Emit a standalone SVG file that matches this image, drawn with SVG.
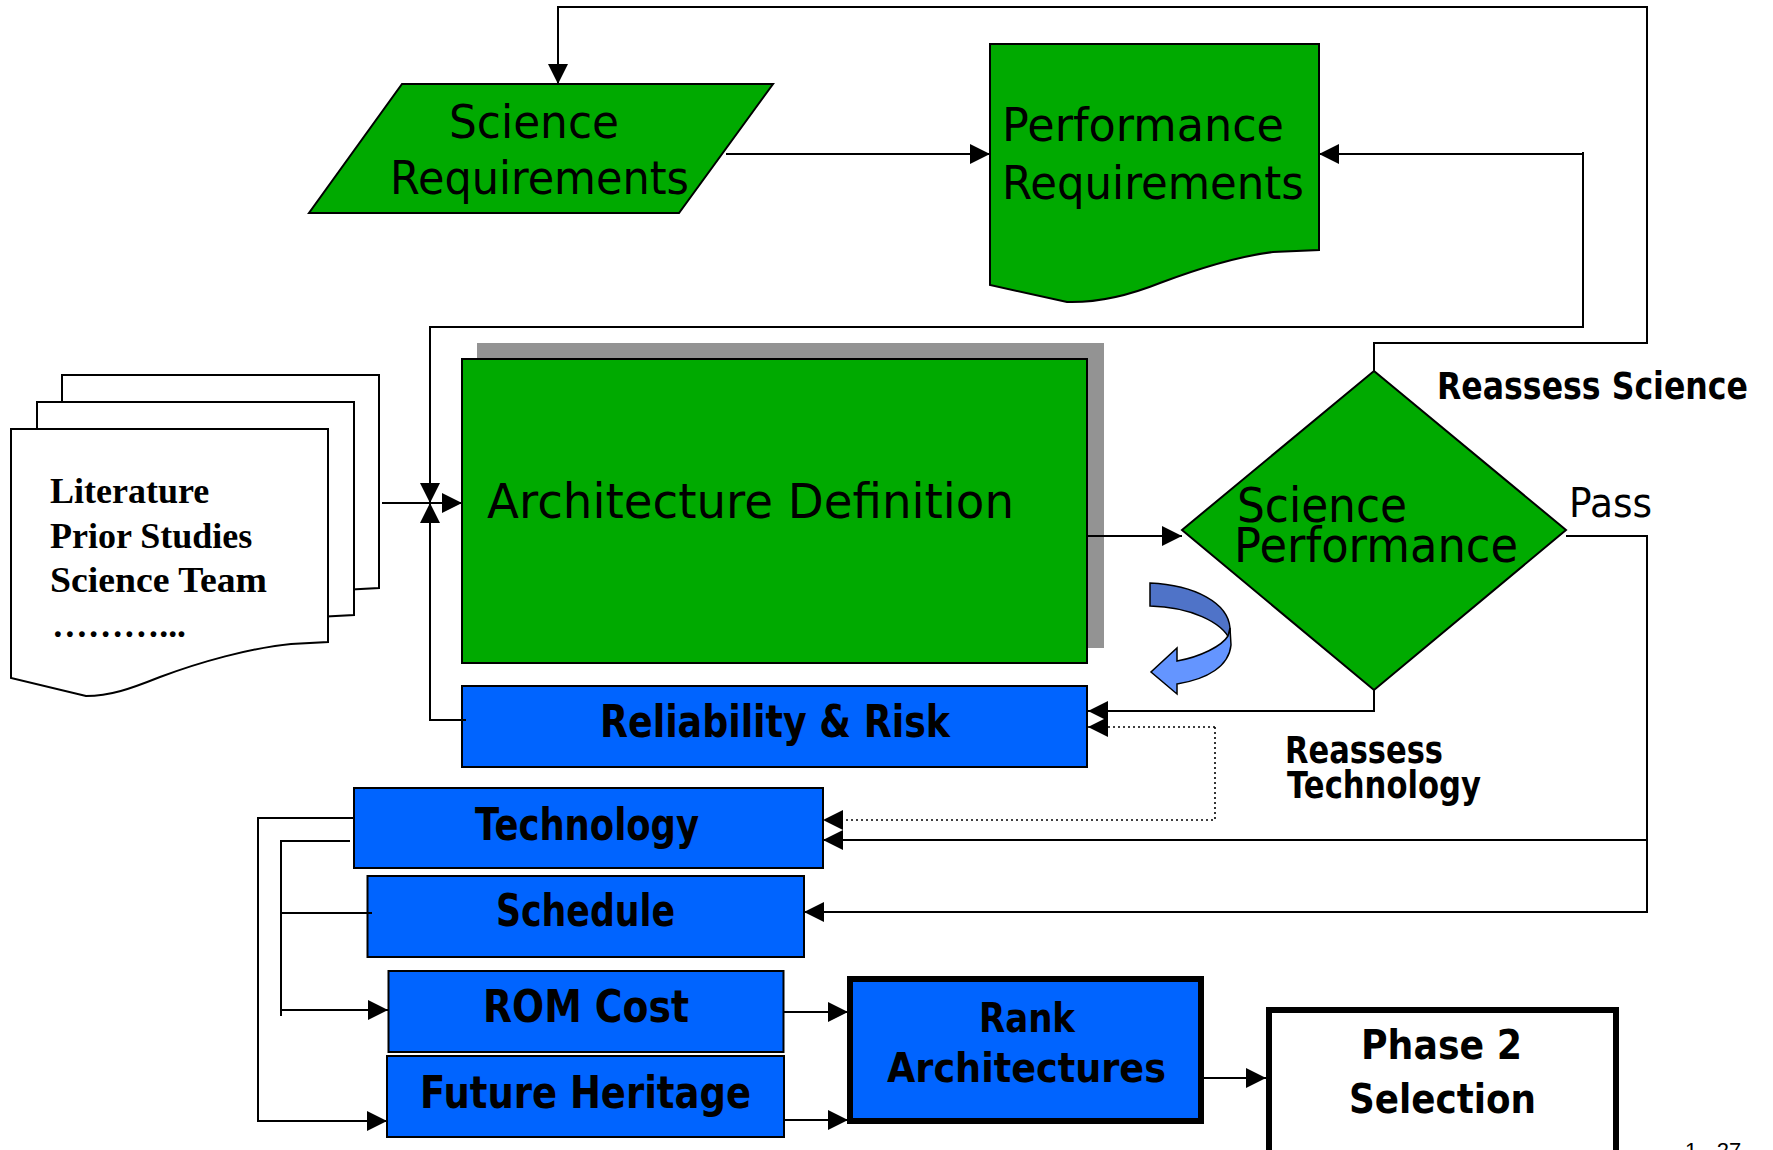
<svg xmlns="http://www.w3.org/2000/svg" width="1773" height="1150" viewBox="0 0 1773 1150">
<style>
.g{fill:#00aa00;stroke:#000;stroke-width:2}
.b{fill:#0064ff;stroke:#000;stroke-width:2}
.doc{fill:#fff;stroke:#000;stroke-width:2}
.t{font-family:"DejaVu Sans",sans-serif;fill:#000}
.tb{font-family:"DejaVu Sans",sans-serif;font-weight:bold;fill:#000}
.ts{font-family:"Liberation Serif",serif;font-weight:bold;fill:#000;font-size:36px}
.c{fill:none;stroke:#000;stroke-width:2}
.d{fill:none;stroke:#000;stroke-width:1.6;stroke-dasharray:2,3}
</style>
<defs>
<marker id="ar" viewBox="0 0 20 20" refX="20" refY="10" markerWidth="20" markerHeight="20" markerUnits="userSpaceOnUse" orient="auto">
<path d="M0,0 L20,10 L0,20 Z" fill="#000"/>
</marker>
<path id="docshape" d="M11,429 L328,429 L328,642 L291,644 C250,648 200,662 160,677 C130,689 110,696 86,696 L11,678 Z"/>
</defs>

<g id="science-requirements">
<polygon class="g" points="402,84 773,84 679,213 309,213"/>
<text class="t" x="449" y="138" font-size="46" textLength="170" lengthAdjust="spacingAndGlyphs">Science</text>
<text class="t" x="390" y="194" font-size="46" textLength="299" lengthAdjust="spacingAndGlyphs">Requirements</text>
</g>

<g id="performance-requirements">
<path class="g" d="M990,44 L1319,44 L1319,250 L1273,252 C1240,256 1200,268 1160,283 C1130,295 1100,303 1067,302 L990,285 Z"/>
<text class="t" x="1002" y="141" font-size="46" textLength="282" lengthAdjust="spacingAndGlyphs">Performance</text>
<text class="t" x="1002" y="199" font-size="46" textLength="302" lengthAdjust="spacingAndGlyphs">Requirements</text>
</g>

<g id="sources">
<use href="#docshape" class="doc" transform="translate(51,-54)"/>
<use href="#docshape" class="doc" transform="translate(26,-27)"/>
<use href="#docshape" class="doc"/>
<text class="ts" x="50" y="503">Literature</text>
<text class="ts" x="50" y="548">Prior Studies</text>
<text class="ts" x="50" y="592" textLength="217" lengthAdjust="spacingAndGlyphs">Science Team</text>
<text class="ts" x="52" y="637" textLength="134" lengthAdjust="spacingAndGlyphs">………...</text>
</g>

<g id="architecture-definition">
<rect x="477" y="343" width="627" height="305" fill="#939393"/>
<rect class="g" x="462" y="359" width="625" height="304"/>
<text class="t" x="487" y="518" font-size="48" textLength="527" lengthAdjust="spacingAndGlyphs">Architecture Definition</text>
</g>

<g id="reliability-risk">
<rect class="b" x="462" y="686" width="625" height="81"/>
<text class="tb" x="600" y="737" font-size="44" textLength="350" lengthAdjust="spacingAndGlyphs">Reliability &amp; Risk</text>
</g>

<g id="science-performance">
<polygon class="g" points="1374,371 1566,530 1374,690 1182,530"/>
<text class="t" x="1237" y="522" font-size="48" textLength="170" lengthAdjust="spacingAndGlyphs">Science</text>
<text class="t" x="1234" y="562" font-size="48" textLength="284" lengthAdjust="spacingAndGlyphs">Performance</text>
</g>

<g id="labels">
<text class="tb" x="1437" y="399" font-size="37" textLength="311" lengthAdjust="spacingAndGlyphs">Reassess Science</text>
<text class="t" x="1569" y="517" font-size="41" textLength="83" lengthAdjust="spacingAndGlyphs">Pass</text>
<text class="tb" x="1285" y="763" font-size="37" textLength="158" lengthAdjust="spacingAndGlyphs">Reassess</text>
<text class="tb" x="1287" y="798" font-size="37" textLength="194" lengthAdjust="spacingAndGlyphs">Technology</text>
<text x="1685" y="1158" font-family="Liberation Sans, sans-serif" font-size="22" fill="#000">1 - 27</text>
</g>

<g id="curved-arrow">
<path d="M1150,583 C1195,585 1228,603 1230,628 L1230,640 C1222,622 1190,607 1150,606 Z" fill="#4f73c8" stroke="#000" stroke-width="1.5"/>
<path d="M1230,628 L1231,645 C1229,666 1208,679 1177,684 L1177,694 L1151,672 L1177,648 L1177,661 C1200,657 1222,646 1228,636 Z" fill="#6495ff" stroke="#000" stroke-width="1.5"/>
</g>

<g id="technology">
<rect class="b" x="354" y="788" width="469" height="80"/>
<text class="tb" x="475" y="840" font-size="44" textLength="224" lengthAdjust="spacingAndGlyphs">Technology</text>
</g>

<g id="schedule">
<rect class="b" x="367.5" y="876" width="436.5" height="81"/>
<text class="tb" x="496" y="926" font-size="44" textLength="179" lengthAdjust="spacingAndGlyphs">Schedule</text>
</g>

<g id="rom-cost">
<rect class="b" x="388.5" y="971" width="395" height="81"/>
<text class="tb" x="483" y="1022" font-size="44" textLength="206" lengthAdjust="spacingAndGlyphs">ROM Cost</text>
</g>

<g id="future-heritage">
<rect class="b" x="387" y="1056" width="397" height="81"/>
<text class="tb" x="420" y="1108" font-size="44" textLength="331" lengthAdjust="spacingAndGlyphs">Future Heritage</text>
</g>

<g id="rank-architectures">
<rect x="850" y="979" width="351" height="142" fill="#0064ff" stroke="#000" stroke-width="6"/>
<text class="tb" x="979" y="1032" font-size="41" textLength="96" lengthAdjust="spacingAndGlyphs">Rank</text>
<text class="tb" x="887" y="1082" font-size="41" textLength="279" lengthAdjust="spacingAndGlyphs">Architectures</text>
</g>

<g id="phase-2-selection">
<rect x="1269" y="1010" width="347" height="160" fill="#fff" stroke="#000" stroke-width="6"/>
<text class="tb" x="1361" y="1059" font-size="41" textLength="161" lengthAdjust="spacingAndGlyphs">Phase 2</text>
<text class="tb" x="1349" y="1113" font-size="41" textLength="187" lengthAdjust="spacingAndGlyphs">Selection</text>
</g>

<g id="connectors">
<path class="c" d="M1374,371 L1374,343 L1647,343 L1647,7 L558,7 L558,84" marker-end="url(#ar)"/>
<path class="c" d="M726,154 L990,154" marker-end="url(#ar)"/>
<path class="c" d="M1583,154 L1319,154" marker-end="url(#ar)"/>
<path class="c" d="M1583,152 L1583,327 L430,327 L430,503" marker-end="url(#ar)"/>
<path class="c" d="M382,503 L462,503" marker-end="url(#ar)"/>
<path class="c" d="M466,720 L430,720 L430,503" marker-end="url(#ar)"/>
<path class="c" d="M1087,536 L1182,536" marker-end="url(#ar)"/>
<path class="c" d="M1374,690 L1374,711 L1088,711" marker-end="url(#ar)"/>
<path class="d" d="M1215,727 L1088,727" marker-end="url(#ar)"/>
<path class="d" d="M1215,727 L1215,820 L823,820" marker-end="url(#ar)"/>
<path class="c" d="M1566,536 L1647,536 L1647,912 L804,912" marker-end="url(#ar)"/>
<path class="c" d="M1647,840 L823,840" marker-end="url(#ar)"/>
<path class="c" d="M354,818 L258,818 L258,1121 L387,1121" marker-end="url(#ar)"/>
<path class="c" d="M350,841 L281,841 L281,1016"/>
<path class="c" d="M281,913 L372,913"/>
<path class="c" d="M281,1010 L388,1010" marker-end="url(#ar)"/>
<path class="c" d="M784,1012 L848,1012" marker-end="url(#ar)"/>
<path class="c" d="M784,1120 L848,1120" marker-end="url(#ar)"/>
<path class="c" d="M1204,1078 L1266,1078" marker-end="url(#ar)"/>
</g>
</svg>
